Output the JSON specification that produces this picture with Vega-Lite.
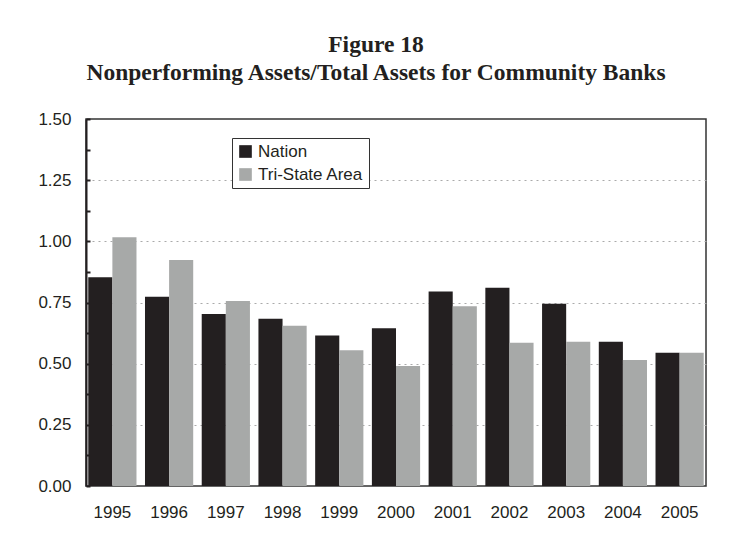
{
  "$schema": "https://vega.github.io/schema/vega-lite/v6.json",
  "width": 620,
  "height": 367,
  "autosize": {"type": "none"},
  "padding": {"left": 86, "top": 119, "right": 37, "bottom": 62},
  "background": "white",
  "title": {
    "text": ["Figure 18", "Nonperforming Assets/Total Assets for Community Banks"],
    "font": "Liberation Serif",
    "fontSize": 23.5,
    "fontWeight": "bold",
    "color": "#231f20",
    "lineHeight": 28,
    "anchor": "middle",
    "frame": "group",
    "dx": -20,
    "offset": 26
  },
  "data": {
    "values": [
      {"year": "1995", "series": "Nation", "value": 0.853},
      {"year": "1995", "series": "Tri-State Area", "value": 1.017},
      {"year": "1996", "series": "Nation", "value": 0.774},
      {"year": "1996", "series": "Tri-State Area", "value": 0.924},
      {"year": "1997", "series": "Nation", "value": 0.703},
      {"year": "1997", "series": "Tri-State Area", "value": 0.756},
      {"year": "1998", "series": "Nation", "value": 0.684},
      {"year": "1998", "series": "Tri-State Area", "value": 0.655},
      {"year": "1999", "series": "Nation", "value": 0.615},
      {"year": "1999", "series": "Tri-State Area", "value": 0.555},
      {"year": "2000", "series": "Nation", "value": 0.645},
      {"year": "2000", "series": "Tri-State Area", "value": 0.49},
      {"year": "2001", "series": "Nation", "value": 0.795},
      {"year": "2001", "series": "Tri-State Area", "value": 0.735},
      {"year": "2002", "series": "Nation", "value": 0.81},
      {"year": "2002", "series": "Tri-State Area", "value": 0.585},
      {"year": "2003", "series": "Nation", "value": 0.745},
      {"year": "2003", "series": "Tri-State Area", "value": 0.59},
      {"year": "2004", "series": "Nation", "value": 0.59},
      {"year": "2004", "series": "Tri-State Area", "value": 0.515},
      {"year": "2005", "series": "Nation", "value": 0.545},
      {"year": "2005", "series": "Tri-State Area", "value": 0.545}
    ]
  },
  "mark": {"type": "bar"},
  "encoding": {
    "x": {
      "field": "year",
      "type": "ordinal",
      "scale": {"paddingInner": 0.15, "paddingOuter": 0.04},
      "axis": {
        "title": null,
        "labelAngle": 0,
        "ticks": false,
        "domain": false,
        "labelFont": "Liberation Sans",
        "labelFontSize": 17,
        "labelColor": "#231f20",
        "labelPadding": 18
      }
    },
    "xOffset": {"field": "series", "type": "nominal", "sort": ["Nation", "Tri-State Area"], "scale": {"padding": 0}},
    "y": {
      "field": "value",
      "type": "quantitative",
      "scale": {"domain": [0, 1.5], "nice": false},
      "axis": {
        "title": null,
        "values": [0, 0.125, 0.25, 0.375, 0.5, 0.625, 0.75, 0.875, 1, 1.125, 1.25, 1.375, 1.5],
        "labelExpr": "datum.value % 0.25 == 0 ? format(datum.value, '.2f') : ''",
        "labelFont": "Liberation Sans",
        "labelFontSize": 17,
        "labelColor": "#231f20",
        "tickSize": -4,
        "tickWidth": 2,
        "tickColor": "#231f20",
        "labelPadding": 19,
        "domainColor": "#231f20",
        "domainWidth": 2,
        "grid": true,
        "gridColor": "#aaaaaa",
        "gridDash": [2, 4],
        "gridWidth": 1,
        "gridOpacity": {"condition": {"test": "datum.value % 0.25 == 0 && datum.value > 0 && datum.value < 1.5", "value": 1}, "value": 0}
      }
    },
    "color": {
      "field": "series",
      "type": "nominal",
      "scale": {"domain": ["Nation", "Tri-State Area"], "range": ["#231f20", "#a7a9a8"]},
      "legend": {
        "title": null,
        "orient": "none",
        "legendX": 146,
        "legendY": 19,
        "direction": "vertical",
        "strokeColor": "#333333",
        "fillColor": "white",
        "padding": 5,
        "symbolType": "square",
        "symbolSize": 160,
        "symbolStrokeWidth": 0,
        "symbolOpacity": 1,
        "labelFont": "Liberation Sans",
        "labelFontSize": 17,
        "labelColor": "#231f20",
        "labelOffset": 4,
        "rowPadding": 5
      }
    }
  },
  "config": {"view": {"stroke": "#333333", "strokeWidth": 1.5}}
}
